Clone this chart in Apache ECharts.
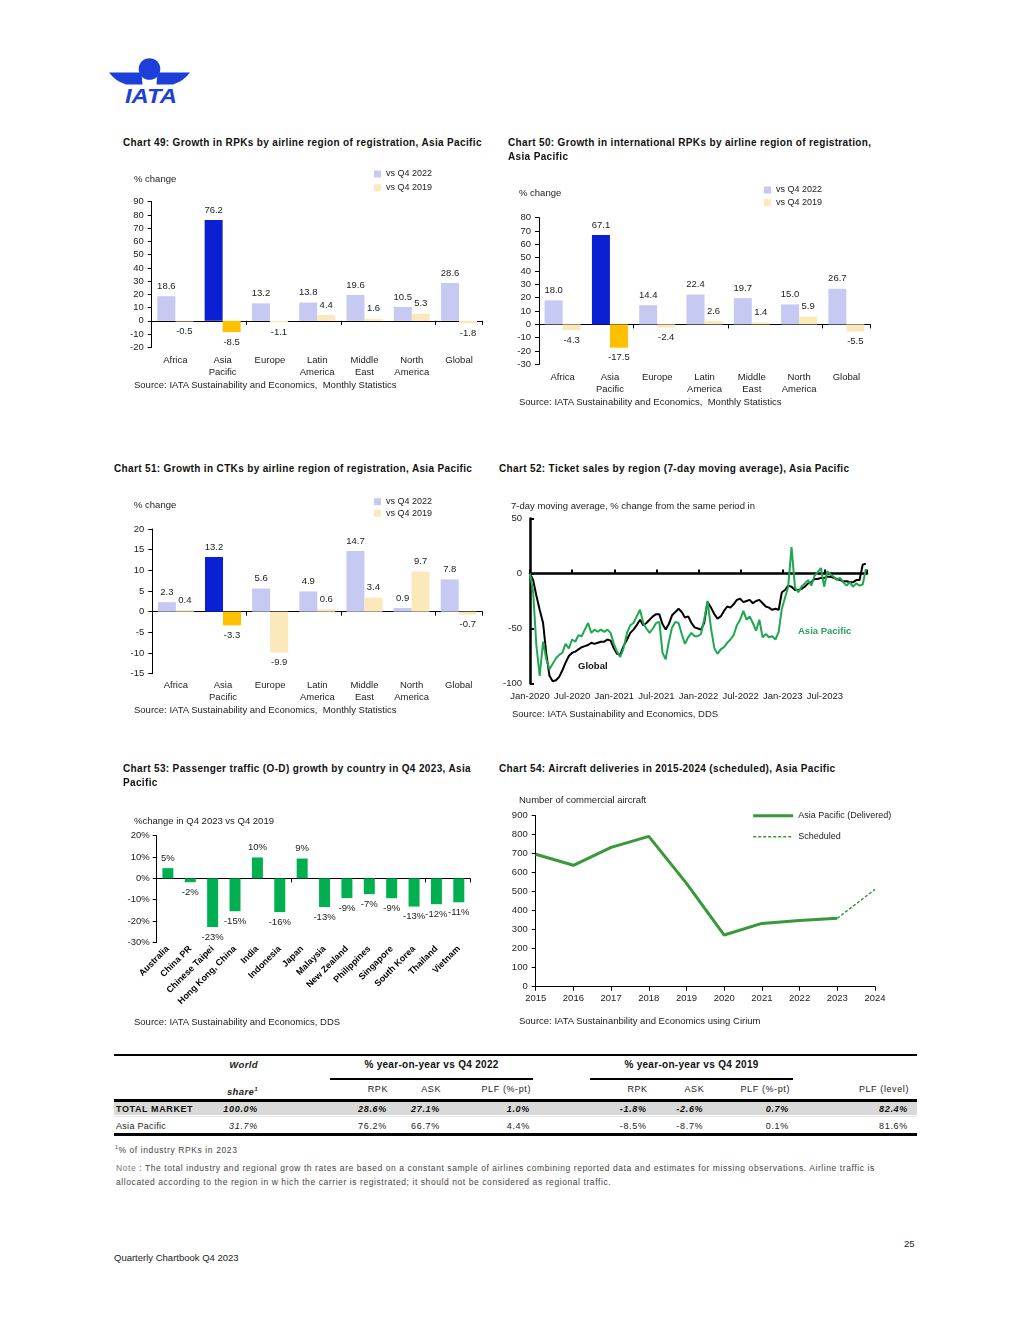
<!DOCTYPE html>
<html><head><meta charset="utf-8">
<script src="https://cdn.jsdelivr.net/npm/echarts@6/dist/echarts.min.js"></script>
<style>
html,body{margin:0;padding:0;background:#fff;}
body{width:1020px;height:1320px;position:relative;overflow:hidden;font-family:'Liberation Sans',Arial,Helvetica,sans-serif;color:#222;}
.t{position:absolute;white-space:nowrap;line-height:12px;z-index:5;}
.title{font-weight:bold;font-size:10px;letter-spacing:0.35px;color:#111;}
.sub{font-size:9.5px;color:#222;}
.chart{position:absolute;}
.rule{position:absolute;background:#000;}
</style></head><body>

<svg style="position:absolute;left:0;top:0" width="220" height="120">
  <g fill="#1d3fd9">
    <circle cx="149.5" cy="69" r="10.8"/>
    <path d="M109,72.5 L141.5,72.5 L142.5,84.5 L126,84.5 Q115,81 109,72.5 Z"/>
    <path d="M190,72.5 L157.5,72.5 L156.5,84.5 L173,84.5 Q184,81 190,72.5 Z"/>
    <text x="151" y="103.3" font-family="Liberation Sans, Arial" font-weight="bold" font-style="italic" font-size="21" text-anchor="middle" textLength="52" lengthAdjust="spacingAndGlyphs">IATA</text>
  </g>
</svg>

<div id="c49" class="chart" style="left:110px;top:160px;width:380px;height:235px"></div>
<div id="c50" class="chart" style="left:500px;top:175px;width:390px;height:235px"></div>
<div id="c51" class="chart" style="left:110px;top:490px;width:380px;height:230px"></div>
<div id="c52" class="chart" style="left:495px;top:490px;width:380px;height:230px"></div>
<div id="c53" class="chart" style="left:110px;top:805px;width:380px;height:225px"></div>
<div id="c54" class="chart" style="left:495px;top:790px;width:420px;height:235px"></div>

<div class="t title" style="left:123px;top:136.5px">Chart 49: Growth in RPKs by airline region of registration, Asia Pacific</div>
<div class="t sub" style="left:134px;top:172.5px">% change</div>
<div class="t sub" style="left:134px;top:379px">Source: IATA Sustainability and Economics,&nbsp; Monthly Statistics</div>

<div class="t title" style="left:508px;top:136.5px">Chart 50: Growth in international RPKs by airline region of registration,</div>
<div class="t title" style="left:508px;top:151px">Asia Pacific</div>
<div class="t sub" style="left:519px;top:186.5px">% change</div>
<div class="t sub" style="left:519px;top:395.7px">Source: IATA Sustainability and Economics,&nbsp; Monthly Statistics</div>

<div class="t title" style="left:114px;top:462.5px">Chart 51: Growth in CTKs by airline region of registration, Asia Pacific</div>
<div class="t sub" style="left:134px;top:498.5px">% change</div>
<div class="t sub" style="left:134px;top:704px">Source: IATA Sustainability and Economics,&nbsp; Monthly Statistics</div>

<div class="t title" style="left:499px;top:462.5px">Chart 52: Ticket sales by region (7-day moving average), Asia Pacific</div>
<div class="t sub" style="left:511px;top:500px">7-day moving average, % change from the same period in</div>
<div class="t sub" style="left:512px;top:707.5px">Source: IATA Sustainability and Economics, DDS</div>
<div class="t" style="left:578px;top:660px;font-size:9.5px;font-weight:bold;color:#111">Global</div>
<div class="t" style="left:798px;top:625px;font-size:9.5px;font-weight:bold;color:#2ba35a">Asia Pacific</div>

<div class="t title" style="left:123px;top:763px">Chart 53: Passenger traffic (O-D) growth by country in Q4 2023, Asia</div>
<div class="t title" style="left:123px;top:777px">Pacific</div>
<div class="t sub" style="left:134px;top:814.5px">%change in Q4 2023 vs Q4 2019</div>
<div class="t sub" style="left:134px;top:1016px">Source: IATA Sustainability and Economics, DDS</div>

<div class="t title" style="left:499px;top:763px">Chart 54: Aircraft deliveries in 2015-2024 (scheduled), Asia Pacific</div>
<div class="t sub" style="left:519px;top:794px">Number of commercial aircraft</div>
<div class="t sub" style="left:519px;top:1015px">Source: IATA Sustainanbility and Economics using Cirium</div>

<div id="table"></div>

<div class="t" style="left:115px;top:1141px;font-size:8.5px;letter-spacing:0.6px;color:#444"><sup style="font-size:5px">1</sup>% of industry RPKs in 2023</div>
<div class="t" style="left:116px;top:1161.5px;font-size:8.5px;letter-spacing:0.58px;color:#444"><span style="color:#777">Note</span> : The total industry and regional grow th rates are based on a constant sample of airlines combining reported data and estimates for missing observations. Airline traffic is</div>
<div class="t" style="left:116px;top:1175.5px;font-size:8.5px;letter-spacing:0.58px;color:#444">allocated according to the region in w hich the carrier is registrated; it should not be considered as regional traffic.</div>

<div class="t" style="left:114px;top:1252px;font-size:9.5px;color:#222">Quarterly Chartbook Q4 2023</div>
<div class="t" style="left:904px;top:1238px;font-size:9.5px;color:#222">25</div>

<script>
// ---------------- DATA ----------------
const regions = ['Africa', 'Asia\nPacific', 'Europe', 'Latin\nAmerica', 'Middle\nEast', 'North\nAmerica', 'Global'];
const seriesNames = ['vs Q4 2022', 'vs Q4 2019'];
const rpkVs2022 = [18.6, 76.2, 13.2, 13.8, 19.6, 10.5, 28.6];
const rpkVs2019 = [-0.5, -8.5, -1.1, 4.4, 1.6, 5.3, -1.8];
const intlRpkVs2022 = [18.0, 67.1, 14.4, 22.4, 19.7, 15.0, 26.7];
const intlRpkVs2019 = [-4.3, -17.5, -2.4, 2.6, 1.4, 5.9, -5.5];
const ctkVs2022 = [2.3, 13.2, 5.6, 4.9, 14.7, 0.9, 7.8];
const ctkVs2019 = [0.4, -3.3, -9.9, 0.6, 3.4, 9.7, -0.7];

// Chart 52: fortnightly samples starting 1 Jan 2020
const ticketStart = '2020-01-01';
const ticketStepDays = 14;
const ticketGlobal = [0,-6,-20,-33,-45,-73,-93,-98,-97,-94,
  -88,-81,-75,-72,-71,-69,-67,-66,-65,-63,
  -64,-63,-62,-62,-60,-61,-68,-73,-74,-66,
  -60,-54,-51,-47,-42,-47,-45,-42,-39,-37,
  -37,-46,-51,-46,-38,-35,-32,-35,-40,-39,
  -45,-49,-50,-51,-45,-26,-31,-37,-41,-39,
  -34,-30,-31,-28,-24,-23,-26,-25,-24,-27,
  -25,-24,-27,-30,-31,-33,-32,-33,-17,-15,
  -11,-12,-15,-15,-14,-12,-9,-8,-5,-5,
  -4,-4,-3,-3,-4,-5,-6,-7,-7,-8,
  -8,-6,-6,8,9];
const ticketAsia = [0,-17,-65,-93,-62,-78,-87,-82,-77,-74,
  -72,-64,-68,-60,-62,-56,-57,-51,-45,-54,
  -51,-53,-51,-53,-51,-54,-64,-71,-76,-68,
  -54,-47,-45,-39,-33,-45,-50,-54,-50,-45,
  -44,-72,-78,-62,-49,-44,-45,-55,-64,-58,
  -54,-57,-57,-55,-42,-25,-50,-68,-73,-69,
  -67,-63,-60,-56,-47,-42,-34,-42,-39,-45,
  -52,-42,-58,-55,-58,-57,-60,-53,-32,-22,
  -12,24,-13,-17,-12,-9,-6,-11,-2,1,
  5,-12,2,-1,-3,-6,-4,-8,-11,-8,
  -12,-9,-11,-10,4];
const ticketYTicks = [-100, -50, 0, 50];

// Chart 53
const countries = ['Australia', 'China PR', 'Chinese Taipei', 'Hong Kong, China', 'India', 'Indonesia', 'Japan', 'Malaysia', 'New Zealand', 'Philippines', 'Singapore', 'South Korea', 'Thailand', 'Vietnam'];
const paxGrowth = [4.8, -1.8, -22.8, -15.4, 9.8, -15.8, 9.3, -13.4, -9.2, -7.4, -9.3, -13.2, -12.1, -11.2];

// Chart 54
const years = ['2015', '2016', '2017', '2018', '2019', '2020', '2021', '2022', '2023', '2024'];
const delivered = [697, 639, 733, 791, 544, 272, 333, 349, 360, null];
const scheduled = [null, null, null, null, null, null, null, null, 360, 512];
const deliveryNames = ['Asia Pacific (Delivered)', 'Scheduled'];

// Table
const tableHeads = ['RPK', 'ASK', 'PLF (%-pt)', 'RPK', 'ASK', 'PLF (%-pt)', 'PLF (level)'];
const totalRow = ['100.0%', '28.6%', '27.1%', '1.0%', '-1.8%', '-2.6%', '0.7%', '82.4%'];
const apacRow = ['31.7%', '76.2%', '66.7%', '4.4%', '-8.5%', '-8.7%', '0.1%', '81.6%'];

// ---------------- STYLE ----------------
const FONT = "'Liberation Sans', Arial, Helvetica, sans-serif";
const INK = '#222';
const FS = 9.5;
const LAV = '#c6c9f2', BLUE = '#0b1fd3', CREAM = '#fce9bb', GOLD = '#ffc000';

function yAxisCfg(min, max, interval, margin, fmt, extra) {
  return Object.assign({
    type: 'value', min: min, max: max, interval: interval,
    axisLine: { show: true, lineStyle: { color: '#000', width: 1 } },
    axisTick: { show: true, length: 4, lineStyle: { color: '#000', width: 1 } },
    splitLine: { show: false },
    axisLabel: { color: INK, fontSize: FS, fontFamily: FONT, margin: margin, formatter: fmt }
  }, extra || {});
}

function barChart(id, g, lg, vals22, vals19, ymin, ymax, yint, lblMargin) {
  const ch = echarts.init(document.getElementById(id));
  const mk = (vals, light, dark) => vals.map((v, i) => ({
    value: v,
    itemStyle: { color: regions[i] === 'Asia\nPacific' ? dark : light },
    label: { position: v < 0 ? 'bottom' : 'top' }
  }));
  const lbl = { show: true, fontSize: FS, color: INK, fontFamily: FONT, distance: 5, formatter: p => p.value.toFixed(1) };
  ch.setOption({
    animation: false,
    textStyle: { fontFamily: FONT },
    grid: { left: g[0], top: g[1], width: g[2], height: g[3], containLabel: false, outerBoundsMode: 'none' },
    legend: { orient: 'vertical', left: lg[0], top: lg[1], padding: 0, itemWidth: 7, itemHeight: 7, itemGap: lg[2], icon: 'rect', selectedMode: false,
      textStyle: { fontSize: 9, color: INK, fontFamily: FONT, lineHeight: 11 }, data: seriesNames },
    xAxis: [
      { type: 'category', data: regions, position: 'bottom', axisLine: { show: false, onZero: false }, axisTick: { show: false },
        axisLabel: { color: INK, fontSize: FS, fontFamily: FONT, margin: lblMargin, lineHeight: 12, interval: 0 } },
      { type: 'category', data: regions, position: 'top', axisLine: { show: true, onZero: true, lineStyle: { color: '#000', width: 1 } },
        axisTick: { show: true, inside: true, length: 4, lineStyle: { color: '#000' } }, axisLabel: { show: false } }
    ],
    yAxis: yAxisCfg(ymin, ymax, yint, 8),
    series: [
      { name: seriesNames[0], type: 'bar', data: mk(vals22, LAV, BLUE), barWidth: 18, barGap: '0%', itemStyle: { color: LAV }, label: lbl },
      { name: seriesNames[1], type: 'bar', data: mk(vals19, CREAM, GOLD), barWidth: 18, barGap: '0%', itemStyle: { color: CREAM }, label: lbl }
    ]
  });
}

barChart('c49', [41.7, 41.7, 331, 145.6], [264, 8.5, 2.7], rpkVs2022, rpkVs2019, -20, 90, 10, 7);
barChart('c50', [39, 42.7, 331, 146.7], [264, 9.5, 1.7], intlRpkVs2022, intlRpkVs2019, -30, 80, 10, 7);
barChart('c51', [42.3, 39, 330, 144.7], [264, 6.2, 0.6], ctkVs2022, ctkVs2019, -15, 20, 5, 6);

// ---- Chart 52
(function () {
  const ch = echarts.init(document.getElementById('c52'));
  const t0 = Date.parse(ticketStart + 'T00:00:00Z');
  const monthPos = k => {
    const d = new Date(t0 + k * ticketStepDays * 86400000);
    const y = d.getUTCFullYear(), m = d.getUTCMonth(), day = d.getUTCDate();
    const dim = new Date(Date.UTC(y, m + 1, 0)).getUTCDate();
    return (y - 2020) * 12 + m + (day - 1) / dim;
  };
  const toPts = arr => arr.map((v, k) => [monthPos(k), v]);
  const mon = ['Jan', 'Feb', 'Mar', 'Apr', 'May', 'Jun', 'Jul', 'Aug', 'Sep', 'Oct', 'Nov', 'Dec'];
  ch.setOption({
    animation: false,
    textStyle: { fontFamily: FONT },
    grid: { left: 35, top: 28.5, width: 337, height: 165, containLabel: false, outerBoundsMode: 'none' },
    xAxis: [
      { type: 'value', min: 0, max: 48, interval: 6, position: 'bottom', axisLine: { show: false, onZero: false }, axisTick: { show: false }, splitLine: { show: false },
        axisLabel: { color: INK, fontSize: FS, fontFamily: FONT, margin: 8, showMaxLabel: false,
          formatter: v => mon[Math.round(v) % 12] + '-' + (2020 + Math.floor(Math.round(v) / 12)) } },
      { type: 'value', min: 0, max: 48, interval: 6, position: 'top', axisLine: { show: true, onZero: true, lineStyle: { color: '#000', width: 2.5 } },
        axisTick: { show: true, inside: false, length: 4, lineStyle: { color: '#000', width: 2 } }, axisLabel: { show: false }, splitLine: { show: false } }
    ],
    yAxis: yAxisCfg(ticketYTicks[0], ticketYTicks[ticketYTicks.length - 1], 50, 8, null,
      { axisLine: { show: true, lineStyle: { color: '#000', width: 2.5 } }, axisTick: { show: true, inside: true, length: 4, lineStyle: { color: '#000', width: 2 } } }),
    series: [
      { name: 'Global', type: 'line', data: toPts(ticketGlobal), symbol: 'none', lineStyle: { color: '#000', width: 2 }, z: 2 },
      { name: 'Asia Pacific', type: 'line', data: toPts(ticketAsia), symbol: 'none', lineStyle: { color: '#1ea84f', width: 2 }, z: 3 }
    ]
  });
})();

// ---- Chart 53
(function () {
  const ch = echarts.init(document.getElementById('c53'));
  ch.setOption({
    animation: false,
    textStyle: { fontFamily: FONT },
    grid: { left: 46.7, top: 30.7, width: 313.3, height: 106.7, containLabel: false, outerBoundsMode: 'none' },
    xAxis: [
      { type: 'category', data: countries, position: 'bottom', axisLine: { show: false, onZero: false }, axisTick: { show: false },
        axisLabel: { color: '#000', fontSize: 9, fontWeight: 'bold', fontFamily: FONT, margin: 5, rotate: 45, interval: 0 } },
      { type: 'category', data: countries, position: 'top', axisLine: { show: true, onZero: true, lineStyle: { color: '#000', width: 1 } },
        axisTick: { show: true, inside: true, length: 4, lineStyle: { color: '#000' } }, axisLabel: { show: false } }
    ],
    yAxis: yAxisCfg(-30, 20, 10, 7, '{value}%'),
    series: [{
      type: 'bar', barWidth: 11, itemStyle: { color: '#00b050' },
      data: paxGrowth.map(v => ({ value: v, label: { position: v < 0 ? 'bottom' : 'top' } })),
      label: { show: true, fontSize: FS, color: INK, fontFamily: FONT, distance: 5, formatter: p => Math.round(p.value) + '%' }
    }]
  });
})();

// ---- Chart 54
(function () {
  const ch = echarts.init(document.getElementById('c54'));
  const GREEN = '#38983a';
  ch.setOption({
    animation: false,
    textStyle: { fontFamily: FONT },
    grid: { left: 40.7, top: 25.7, width: 339.3, height: 171, containLabel: false, outerBoundsMode: 'none' },
    legend: { orient: 'vertical', left: 256.7, top: 20.2, padding: 0, itemWidth: 40, itemHeight: 11, itemGap: 10, selectedMode: false,
      itemStyle: { opacity: 0 },
      textStyle: { fontSize: 9, color: INK, fontFamily: FONT, lineHeight: 11 },
      data: [
        { name: deliveryNames[0], lineStyle: { width: 3, color: GREEN } },
        { name: deliveryNames[1], lineStyle: { width: 1.5, color: GREEN, type: [3, 2] } }
      ] },
    xAxis: { type: 'category', data: years, boundaryGap: false, axisLine: { show: true, lineStyle: { color: '#000', width: 1 } },
      axisTick: { show: true, length: 4, lineStyle: { color: '#000' } },
      axisLabel: { color: INK, fontSize: FS, fontFamily: FONT, margin: 7, interval: 0 } },
    yAxis: yAxisCfg(0, 900, 100, 8),
    series: [
      { name: deliveryNames[0], type: 'line', data: delivered, symbol: 'none', lineStyle: { color: GREEN, width: 3 }, itemStyle: { color: GREEN } },
      { name: deliveryNames[1], type: 'line', data: scheduled, symbol: 'none', lineStyle: { color: GREEN, width: 1.5, type: [3, 2] }, itemStyle: { color: GREEN } }
    ]
  });
})();

// ---- Table
(function () {
  const host = document.getElementById('table');
  const add = (html, style) => { const d = document.createElement('div'); d.className = 't'; d.style.cssText = style; d.innerHTML = html; host.appendChild(d); return d; };
  const rule = (x, y, w, h, c) => { const d = document.createElement('div'); d.className = 'rule'; d.style.cssText = `left:${x}px;top:${y}px;width:${w}px;height:${h}px;background:${c || '#000'}`; host.appendChild(d); };
  const right = (xr, yc, txt, extra) => add(txt, `right:${1020 - xr}px;top:${yc - 6}px;text-align:right;${extra || ''}`);
  const center = (xc, yc, txt, extra) => add(txt, `left:${xc - 100}px;width:200px;top:${yc - 6}px;text-align:center;${extra || ''}`);

  rule(114, 1054, 803, 2);
  rule(330, 1077.5, 203, 2.5);
  rule(590, 1077.5, 203, 2.5);
  rule(114, 1101.7, 803, 13.3, '#d9d9d9');
  rule(114, 1098.5, 803, 3);
  rule(114, 1116, 803, 1, '#e6e6e6');
  rule(114, 1133.3, 803, 3);

  const colRight = [258, 387, 440, 530, 646.7, 703.3, 789, 908];
  right(258, 1065, 'World', 'font-size:9.5px;font-weight:bold;font-style:italic;color:#222;letter-spacing:0.4px');
  right(258, 1089, 'share<sup style="font-size:6px">1</sup>', 'font-size:9.5px;font-weight:bold;font-style:italic;color:#222;letter-spacing:0.4px');
  center(431.5, 1065, '% year-on-year vs Q4 2022', 'font-size:10px;font-weight:bold;color:#111;letter-spacing:0.3px');
  center(691.5, 1065, '% year-on-year vs Q4 2019', 'font-size:10px;font-weight:bold;color:#111;letter-spacing:0.3px');
  tableHeads.forEach((h, i) => right(colRight[i + 1] + 1, 1089, h, 'font-size:9px;letter-spacing:0.6px;color:#222'));

  add('TOTAL MARKET', 'left:116px;top:1102.5px;font-size:9px;font-weight:bold;letter-spacing:0.6px;color:#111');
  totalRow.forEach((v, i) => right(colRight[i], 1108.5, v, 'font-size:9px;font-weight:bold;font-style:italic;letter-spacing:0.7px;color:#111'));
  add('Asia Pacific', 'left:116px;top:1120px;font-size:9px;letter-spacing:0.3px;color:#222');
  apacRow.forEach((v, i) => right(colRight[i], 1126, v, 'font-size:9px;letter-spacing:0.7px;color:#222' + (i === 0 ? ';font-style:italic' : '')));
})();
</script>
</body></html>
